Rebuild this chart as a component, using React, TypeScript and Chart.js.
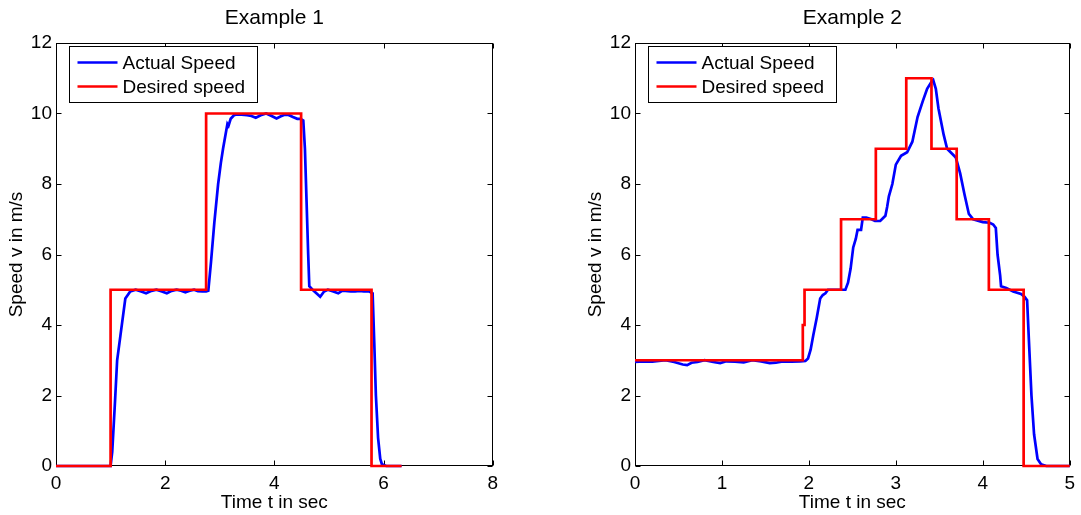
import React, { useEffect, useRef } from "react";
import { Chart, registerables } from "chart.js";
Chart.register(...registerables);

const FONT = '"Liberation Sans", Arial, Helvetica, sans-serif';

// ---- shared axis data ----
const speedTicks = [0, 2, 4, 6, 8, 10, 12];
const ex1TimeTicks = [0, 2, 4, 6, 8];
const ex2TimeTicks = [0, 1, 2, 3, 4, 5];
const legendLabels = ["Actual Speed", "Desired speed"];
const titles = ["Example 1", "Example 2"];
const xAxisLabel = "Time t in sec";
const yAxisLabel = "Speed v in m/s";

// ---- Example 1 ----
const ex1DesiredT = [0, 1.0, 2.75, 4.49, 5.78, 6.33];
const ex1DesiredV = [0, 5, 10, 5, 0, 0];
const ex1ActualT = [0, 1.0, 1.03, 1.08, 1.12, 1.18, 1.27, 1.36, 1.46, 1.56,
  1.65, 1.75, 1.84, 1.94, 2.03, 2.12, 2.21, 2.29, 2.37, 2.45,
  2.53, 2.6, 2.68, 2.75, 2.79, 2.81, 2.84, 2.9, 2.97, 3.02,
  3.06, 3.14, 3.16, 3.2, 3.26, 3.31, 3.4, 3.5, 3.58, 3.66,
  3.75, 3.85, 3.95, 4.04, 4.12, 4.2, 4.26, 4.34, 4.42, 4.48,
  4.53, 4.56, 4.59, 4.62, 4.64, 4.7, 4.77, 4.84, 4.91, 4.98,
  5.08, 5.17, 5.24, 5.3, 5.4, 5.48, 5.56, 5.64, 5.74, 5.8,
  5.83, 5.86, 5.9, 5.94, 5.97, 6.05, 6.33];
const ex1ActualV = [0, 0, 0.4, 1.8, 3.0, 3.7, 4.75, 4.95, 5.0, 4.95,
  4.9, 4.97, 5.0, 4.95, 4.9, 4.97, 5.0, 4.97, 4.93, 4.97,
  5.0, 4.96, 4.95, 4.95, 4.97, 5.3, 5.8, 6.9, 8.0, 8.6,
  9.0, 9.7, 9.65, 9.85, 9.95, 9.97, 9.97, 9.95, 9.93, 9.88,
  9.95, 10.0, 9.93, 9.86, 9.92, 9.97, 9.96, 9.9, 9.85, 9.85,
  9.8, 9.0, 7.5, 6.0, 5.1, 5.0, 4.9, 4.8, 4.95, 5.0,
  4.95, 4.9, 4.97, 4.97, 4.95, 4.95, 4.97, 4.95, 4.95, 4.9,
  3.5, 2.0, 0.8, 0.2, 0.05, 0, 0];

// ---- Example 2 ----
const ex2DesiredT = [0, 1.93, 1.95, 2.37, 2.77, 3.12, 3.41, 3.7, 4.07, 4.47, 5.0];
const ex2DesiredV = [3, 4, 5, 7, 9, 11, 9, 7, 5, 0, 0];
const ex2ActualT = [0, 0.1, 0.2, 0.35, 0.45, 0.55, 0.6, 0.65, 0.72, 0.8,
  0.9, 0.98, 1.05, 1.15, 1.25, 1.35, 1.45, 1.55, 1.62, 1.7,
  1.8, 1.9, 1.96, 1.99, 2.02, 2.05, 2.09, 2.13, 2.16, 2.19,
  2.22, 2.3, 2.42, 2.45, 2.48, 2.51, 2.54, 2.56, 2.6, 2.62,
  2.66, 2.72, 2.76, 2.82, 2.88, 2.9, 2.92, 2.96, 3.0, 3.06,
  3.13, 3.19, 3.25, 3.31, 3.36, 3.41, 3.43, 3.46, 3.49, 3.55,
  3.59, 3.65, 3.69, 3.74, 3.79, 3.84, 3.89, 4.0, 4.08, 4.12,
  4.15, 4.17, 4.2, 4.21, 4.27, 4.35, 4.44, 4.48, 4.51, 4.53,
  4.56, 4.59, 4.63, 4.67, 4.73, 5.0];
const ex2ActualV = [2.95, 2.97, 2.96, 3.0, 2.95, 2.88, 2.86, 2.93, 2.95, 3.0,
  2.95, 2.92, 2.97, 2.96, 2.94, 3.0, 2.97, 2.92, 2.93, 2.97,
  2.96, 2.97, 2.98, 3.05, 3.3, 3.7, 4.2, 4.75, 4.85, 4.9,
  5.0, 5.0, 5.0, 5.2, 5.6, 6.2, 6.45, 6.7, 6.7, 7.05,
  7.05, 7.0, 6.95, 6.95, 7.1, 7.35, 7.65, 8.0, 8.55, 8.8,
  8.9, 9.2, 9.9, 10.35, 10.7, 10.9, 10.95, 10.7, 10.15, 9.4,
  9.0, 8.85, 8.75, 8.3, 7.7, 7.15, 7.0, 6.92, 6.9, 6.85,
  6.75, 6.0, 5.4, 5.1, 5.05, 4.95, 4.88, 4.8, 4.7, 3.6,
  2.0, 0.9, 0.2, 0.05, 0, 0];

const zip = (t: number[], v: number[]) => t.map((x, i) => ({ x, y: v[i] }));

const matlabPlugin = {
  id: "matlabFrame",
  beforeDatasetsDraw(chart: any) {
    const { ctx, chartArea: a, scales } = chart;
    ctx.save();
    ctx.strokeStyle = "#000";
    ctx.lineWidth = 1;
    const L = Math.round(a.left) + 0.5, R = Math.round(a.right) - 0.5;
    const T = Math.round(a.top) + 0.5, B = Math.round(a.bottom) - 0.5;
    ctx.beginPath();
    scales.x.ticks.forEach((t: any) => {
      const px = Math.round(scales.x.getPixelForValue(t.value)) + 0.5;
      ctx.moveTo(px, B); ctx.lineTo(px, B - 5);
      ctx.moveTo(px, T); ctx.lineTo(px, T + 5);
    });
    scales.y.ticks.forEach((t: any) => {
      const py = Math.round(scales.y.getPixelForValue(t.value)) + 0.5;
      ctx.moveTo(L, py); ctx.lineTo(L + 5, py);
      ctx.moveTo(R, py); ctx.lineTo(R - 5, py);
    });
    ctx.stroke();
    ctx.strokeRect(L, T, R - L, B - T);
    ctx.restore();
  },
  afterDatasetsDraw(chart: any, _args: any, opts: any) {
    const { ctx, chartArea: a } = chart;
    ctx.save();
    // title
    ctx.fillStyle = "#000";
    ctx.font = `21px ${FONT}`;
    ctx.textAlign = "center";
    ctx.textBaseline = "middle";
    ctx.fillText(opts.title, (a.left + a.right) / 2, 18);
    // legend
    const bx = Math.round(a.left) + 13.5, by = Math.round(a.top) + 3.5;
    const bw = 188, bh = 56;
    ctx.fillStyle = "#fff";
    ctx.fillRect(bx, by, bw, bh);
    ctx.strokeStyle = "#000";
    ctx.lineWidth = 1;
    ctx.strokeRect(bx, by, bw, bh);
    const items = chart.data.datasets;
    ctx.font = `19px ${FONT}`;
    ctx.textAlign = "left";
    items.forEach((ds: any, i: number) => {
      const yy = by + 16 + i * 24;
      ctx.strokeStyle = ds.borderColor;
      ctx.lineWidth = 2.7;
      ctx.beginPath();
      ctx.moveTo(bx + 8, yy);
      ctx.lineTo(bx + 48, yy);
      ctx.stroke();
      ctx.fillStyle = "#000";
      ctx.fillText(ds.label, bx + 53, yy + 1);
    });
    ctx.restore();
  },
};

type Props = {
  left: number; width: number; title: string; xMax: number; xTicks: number[];
  actualT: number[]; actualV: number[]; desiredT: number[]; desiredV: number[];
};

function SpeedChart(p: Props) {
  const ref = useRef<HTMLCanvasElement>(null);
  useEffect(() => {
    const canvas = ref.current!;
    const chart = new Chart(canvas, {
      type: "line",
      data: {
        datasets: [
          {
            label: legendLabels[0],
            data: zip(p.actualT, p.actualV),
            borderColor: "#0000ff",
            borderWidth: 2.7,
            pointRadius: 0,
            tension: 0,
            order: 2,
            clip: false as any,
          },
          {
            label: legendLabels[1],
            data: zip(p.desiredT, p.desiredV),
            borderColor: "#ff0000",
            borderWidth: 2.7,
            pointRadius: 0,
            stepped: "before",
            order: 1,
            clip: false as any,
          },
        ],
      },
      plugins: [matlabPlugin],
      options: {
        animation: false,
        responsive: false,
        events: [],
        layout: { padding: { left: 0, right: 7, top: 43, bottom: 0 } },
        plugins: {
          legend: { display: false },
          tooltip: { enabled: false },
          title: { display: false },
          matlabFrame: { title: p.title },
        } as any,
        scales: {
          x: {
            type: "linear",
            min: 0,
            max: p.xMax,
            afterBuildTicks: (s: any) => { s.ticks = p.xTicks.map((v) => ({ value: v })); },
            afterFit: (s: any) => { s.height = 49; },
            grid: { display: false, drawTicks: false },
            border: { display: false },
            ticks: { color: "#000", font: { family: FONT, size: 19 }, padding: 6, maxRotation: 0, autoSkip: false },
            title: { display: true, text: xAxisLabel, color: "#000", font: { family: FONT, size: 19 }, padding: { top: 0, bottom: 1 } },
          },
          y: {
            type: "linear",
            min: 0,
            max: 12,
            afterBuildTicks: (s: any) => { s.ticks = speedTicks.map((v) => ({ value: v })); },
            afterFit: (s: any) => { s.width = 56; },
            grid: { display: false, drawTicks: false },
            border: { display: false },
            ticks: { color: "#000", font: { family: FONT, size: 19 }, padding: 4 },
            title: { display: true, text: yAxisLabel, color: "#000", font: { family: FONT, size: 19 }, padding: { top: 5, bottom: 0 } },
          },
        },
      } as any,
    });
    return () => chart.destroy();
  }, []);
  return (
    <canvas
      ref={ref}
      width={p.width}
      height={515}
      style={{ position: "absolute", left: p.left, top: 0, width: p.width, height: 515 }}
    />
  );
}

export default function App() {
  return (
    <div style={{ position: "fixed", left: 0, top: 0, width: 1081, height: 515, background: "#fff", overflow: "hidden" }}>
      <SpeedChart left={0} width={504} title={titles[0]} xMax={8} xTicks={ex1TimeTicks}
        actualT={ex1ActualT} actualV={ex1ActualV} desiredT={ex1DesiredT} desiredV={ex1DesiredV} />
      <SpeedChart left={579} width={502} title={titles[1]} xMax={5} xTicks={ex2TimeTicks}
        actualT={ex2ActualT} actualV={ex2ActualV} desiredT={ex2DesiredT} desiredV={ex2DesiredV} />
    </div>
  );
}
